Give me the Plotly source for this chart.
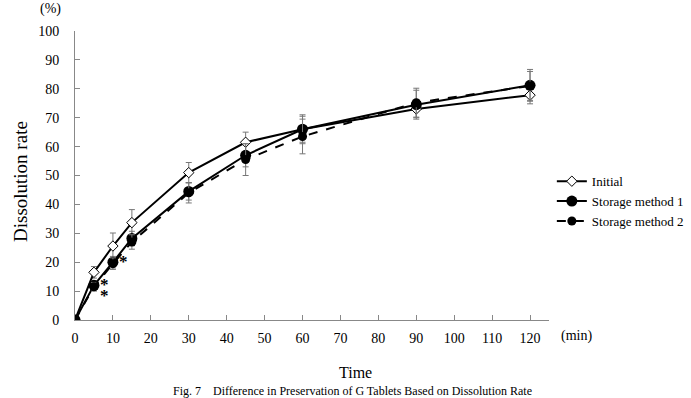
import plotly.graph_objects as go

time_min = [0, 5, 10, 15, 30, 45, 60, 90, 120]
initial = [0, 16.5, 25.6, 33.7, 51.0, 61.5, 66.0, 73.0, 77.8]
initial_err = [0, 2.0, 4.5, 4.5, 3.5, 3.5, 4.5, 3.0, 3.0]
storage1 = [0, 12.0, 20.0, 28.2, 44.5, 57.0, 66.0, 74.5, 81.2]
storage1_err = [0, 1.5, 2.0, 2.5, 3.0, 4.0, 5.0, 5.0, 5.5]
storage2 = [0, 11.5, 19.5, 27.0, 44.0, 55.5, 63.5, 75.2, 81.0]
storage2_err = [0, 1.5, 2.0, 2.5, 3.5, 5.5, 6.0, 5.0, 5.0]

x_ticks = list(range(0, 121, 10))
y_ticks = list(range(0, 101, 10))

FONT = "Liberation Serif, Times New Roman, serif"
err_style = dict(type="data", visible=True, color="#777777", thickness=1, width=3)

fig = go.Figure()
fig.add_trace(go.Scatter(
    x=time_min, y=initial, name="Initial", mode="lines+markers",
    line=dict(color="black", width=2),
    marker=dict(symbol="diamond", size=8, color="white", line=dict(color="black", width=1)),
    error_y=dict(array=initial_err, **err_style)))
fig.add_trace(go.Scatter(
    x=time_min, y=storage1, name="Storage method 1", mode="lines+markers",
    line=dict(color="black", width=2),
    marker=dict(symbol="circle", size=11, color="black"),
    error_y=dict(array=storage1_err, **err_style)))
fig.add_trace(go.Scatter(
    x=time_min, y=storage2, name="Storage method 2", mode="lines+markers",
    line=dict(color="black", width=2, dash="dash"),
    marker=dict(symbol="circle", size=9, color="black"),
    error_y=dict(array=storage2_err, **err_style)))

fig.update_layout(
    width=691, height=398,
    margin=dict(l=75, r=142, t=31, b=78, autoexpand=False),
    plot_bgcolor="white", paper_bgcolor="white",
    font=dict(family=FONT, size=13, color="black"),
    showlegend=True,
    legend=dict(x=1.006, y=0.532, xanchor="left", yanchor="top",
                font=dict(family=FONT, size=13, color="black"), bgcolor="rgba(0,0,0,0)",
                itemwidth=30, tracegroupgap=0),
    xaxis=dict(range=[0, 125], tickvals=x_ticks, showgrid=False, zeroline=False,
               showline=True, linecolor="#888888", linewidth=1,
               ticks="inside", ticklen=5, tickcolor="#888888", ticklabelstandoff=5,
               tickfont=dict(family=FONT, size=14, color="black")),
    yaxis=dict(range=[0, 100], tickvals=y_ticks, showgrid=False, zeroline=False,
               showline=True, linecolor="#888888", linewidth=1,
               ticks="inside", ticklen=5, tickcolor="#888888", ticklabelstandoff=12,
               tickfont=dict(family=FONT, size=14, color="black")),
)

star_font = dict(family=FONT, size=17, color="black")
fig.add_annotation(text="<b>*</b>", x=12.8, y=20.2, xref="x", yref="y", showarrow=False, font=star_font)
fig.add_annotation(text="<b>*</b>", x=7.8, y=12.2, xref="x", yref="y", showarrow=False, font=star_font)
fig.add_annotation(text="<b>*</b>", x=7.8, y=8.5, xref="x", yref="y", showarrow=False, font=star_font)

def pix_note(text, px, py, size, angle=0):
    pw, ph = 691 - 75 - 142, 398 - 31 - 78
    fig.add_annotation(text=text, x=(px - 75) / pw, y=(398 - 78 - py) / ph,
                       xref="paper", yref="paper", xanchor="center", yanchor="middle",
                       showarrow=False, textangle=angle,
                       font=dict(family=FONT, size=size, color="black"))

pix_note("(%)", 50, 9, 14)
pix_note("(min)", 576, 336, 14)
pix_note("Dissolution rate", 20, 182, 19, angle=-90)
pix_note("Time", 355, 372, 16)
pix_note("Fig. 7    Difference in Preservation of G Tablets Based on Dissolution Rate", 352, 391, 12)

fig.write_html("out.html")
